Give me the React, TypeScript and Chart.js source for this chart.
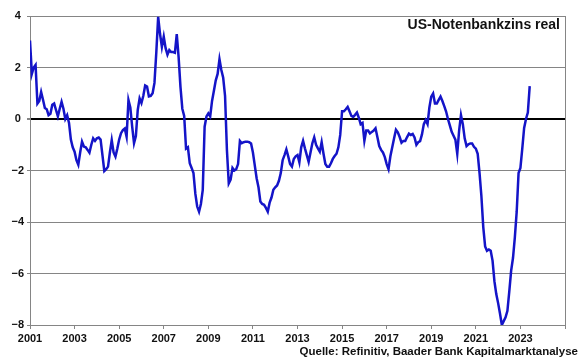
import React, { useEffect, useRef } from "react";
import { Chart, registerables } from "chart.js";

Chart.register(...registerables);

const chartTitle = "US-Notenbankzins real";
const sourceText = "Quelle: Refinitiv, Baader Bank Kapitalmarktanalyse";

const startYear = 2001;
const monthsPerYear = 12;

// Monthly real Fed funds rate (%), Jan 2001 onwards
const realRate: number[] = [
  // 2001
  3.05, 1.75, 2.0, 2.1, 0.6, 0.7, 1.05, 0.75, 0.43, 0.38, 0.15, 0.2,
  // 2002
  0.55, 0.6, 0.35, 0.1, 0.4, 0.67, 0.4, 0.0, 0.15, -0.15, -0.8, -1.1,
  // 2003
  -1.27, -1.6, -1.78, -1.3, -0.88, -1.07, -1.1, -1.2, -1.31, -1.0, -0.75, -0.85,
  // 2004
  -0.75, -0.72, -0.8, -1.4, -2.02, -1.95, -1.85, -1.3, -0.82, -1.3, -1.46, -1.15,
  // 2005
  -0.8, -0.55, -0.43, -0.37, -0.69, 0.74, 0.45, -0.3, -0.94, -0.66, 0.35, 0.8,
  // 2006
  0.62, 0.9, 1.3, 1.26, 0.88, 0.9, 1.0, 1.4, 2.6, 3.97, 3.3, 2.8,
  // 2007
  3.2, 2.75, 2.5, 2.68, 2.6, 2.6, 2.57, 3.3, 2.4, 1.25, 0.4, 0.12,
  // 2008
  -1.15, -1.1, -1.72, -1.9, -2.1, -2.9, -3.4, -3.6, -3.3, -2.75, -0.3, 0.1,
  // 2009
  0.22, 0.1, 0.7, 1.1, 1.5, 1.75, 2.32, 1.9, 1.6, 0.9, -1.2, -2.5,
  // 2010
  -2.35, -1.9, -2.0, -1.95, -1.75, -0.85, -0.94, -0.9, -0.88, -0.88, -0.9, -0.95,
  // 2011
  -1.3, -1.8, -2.3, -2.65, -3.2, -3.3, -3.33, -3.45, -3.6, -3.25, -3.05, -2.75,
  // 2012
  -2.65, -2.58, -2.4, -2.1, -1.6, -1.4, -1.18, -1.45, -1.75, -1.85, -1.55, -1.45,
  // 2013
  -1.4, -1.68, -1.1, -0.85, -1.14, -1.4, -1.66, -1.3, -0.94, -0.71, -1.0, -1.14,
  // 2014
  -1.27, -0.9, -1.35, -1.75, -1.85, -1.85, -1.72, -1.55, -1.44, -1.35, -1.1, -0.62,
  // 2015
  0.3, 0.3, 0.38, 0.47, 0.3, 0.12, 0.08, 0.16, 0.25, 0.05, -0.2, -0.15,
  // 2016
  -0.85, -0.45, -0.45, -0.56, -0.5, -0.45, -0.36, -0.7, -1.05, -1.2, -1.3, -1.48,
  // 2017
  -1.75, -1.95, -1.45, -1.1, -0.75, -0.42, -0.52, -0.7, -0.92, -0.85, -0.85, -0.7,
  // 2018
  -0.57, -0.62, -0.58, -0.72, -1.0, -0.9, -0.86, -0.6, -0.2, -0.04, -0.2, 0.45,
  // 2019
  0.87, 0.99, 0.6, 0.6, 0.74, 0.87, 0.7, 0.5, 0.29, 0.0, -0.25, -0.5,
  // 2020
  -0.65, -0.8, -1.35, -0.45, 0.15, -0.2, -0.75, -1.05, -0.98, -0.95, -0.95, -1.08,
  // 2021
  -1.15, -1.35, -2.1, -3.0, -4.2, -4.95, -5.12, -5.07, -5.12, -5.5, -6.3, -6.8,
  // 2022
  -7.15, -7.55, -8.0, -7.85, -7.7, -7.45, -6.7, -5.9, -5.4, -4.6, -3.6, -2.1,
  // 2023
  -1.9, -1.15, -0.35, 0.0, 0.25, 1.28,
];

const xTickYears = [2001, 2003, 2005, 2007, 2009, 2011, 2013, 2015, 2017, 2019, 2021, 2023, 2025];
const xTickLabels = ["2001", "2003", "2005", "2007", "2009", "2011", "2013", "2015", "2017", "2019", "2021", "2023", ""];
const yTicks = [-8, -6, -4, -2, 0, 2, 4];

const FONT = '"Liberation Sans", Arial, Helvetica, sans-serif';
const GRID = "#858585";
const LINE = "#1414c8";
const TEXT = "#111111";

export default function App() {
  const canvasRef = useRef<HTMLCanvasElement | null>(null);

  useEffect(() => {
    document.body.style.margin = "0";
    const canvas = canvasRef.current;
    if (!canvas) return;

    const points = realRate.map((v, i) => ({ x: startYear + i / monthsPerYear, y: v }));

    const textPlugin = {
      id: "textPlugin",
      afterDraw(chart: any) {
        const { ctx, chartArea } = chart;
        ctx.save();
        ctx.fillStyle = TEXT;
        ctx.font = `bold 14px ${FONT}`;
        ctx.textAlign = "right";
        ctx.textBaseline = "middle";
        ctx.fillText(chartTitle, chartArea.right - 5, chartArea.top + 9);
        ctx.font = `bold 11.5px ${FONT}`;
        ctx.fillText(sourceText, chart.width - 2, chart.height - 7);
        ctx.restore();
      },
    };

    const chart = new Chart(canvas, {
      type: "line",
      data: {
        datasets: [
          {
            data: points,
            borderColor: LINE,
            borderWidth: 2.5,
            pointRadius: 0,
            tension: 0,
            fill: false,
          },
        ],
      },
      options: {
        animation: false,
        responsive: false,
        devicePixelRatio: 1,
        layout: { padding: { left: 0, top: 16, right: 15, bottom: 12 } },
        plugins: {
          legend: { display: false },
          tooltip: { enabled: false },
          title: { display: false },
        },
        scales: {
          x: {
            type: "linear",
            min: 2001,
            max: 2025,
            afterBuildTicks: (scale: any) => {
              scale.ticks = xTickYears.map((value) => ({ value }));
            },
            afterFit: (scale: any) => {
              scale.height = 22;
            },
            grid: {
              drawOnChartArea: true,
              color: (ctx: any) => (ctx.tick && ctx.tick.value === 2025 ? GRID : "rgba(0,0,0,0)"),
              tickColor: GRID,
              tickLength: 4,
              lineWidth: 1,
            },
            border: { display: true, color: GRID, width: 1 },
            ticks: {
              autoSkip: false,
              maxRotation: 0,
              padding: 3,
              color: TEXT,
              font: { family: FONT, size: 11, weight: "bold" },
              callback: (value: any) => {
                const idx = xTickYears.indexOf(Number(value));
                return idx >= 0 ? xTickLabels[idx] : "";
              },
            },
          },
          y: {
            type: "linear",
            min: -8,
            max: 4,
            afterBuildTicks: (scale: any) => {
              scale.ticks = yTicks.map((value) => ({ value }));
            },
            afterFit: (scale: any) => {
              scale.width = 30;
            },
            grid: {
              color: (ctx: any) => (ctx.tick && ctx.tick.value === 0 ? "#000000" : GRID),
              lineWidth: (ctx: any) => (ctx.tick && ctx.tick.value === 0 ? 2 : 1),
              tickColor: GRID,
              tickLength: 3,
            },
            border: { display: true, color: GRID, width: 1 },
            ticks: {
              padding: 3,
              crossAlign: "center",
              color: TEXT,
              font: { family: FONT, size: 11, weight: "bold" },
              callback: (value: any) => {
                const v = Number(value);
                return v < 0 ? "\u2212" + Math.abs(v) : String(v);
              },
            },
          },
        },
      },
      plugins: [textPlugin],
    });

    return () => {
      chart.destroy();
    };
  }, []);

  return (
    <div style={{ width: 580, height: 359, background: "#ffffff" }}>
      <canvas ref={canvasRef} width={580} height={359} style={{ display: "block" }} />
    </div>
  );
}
